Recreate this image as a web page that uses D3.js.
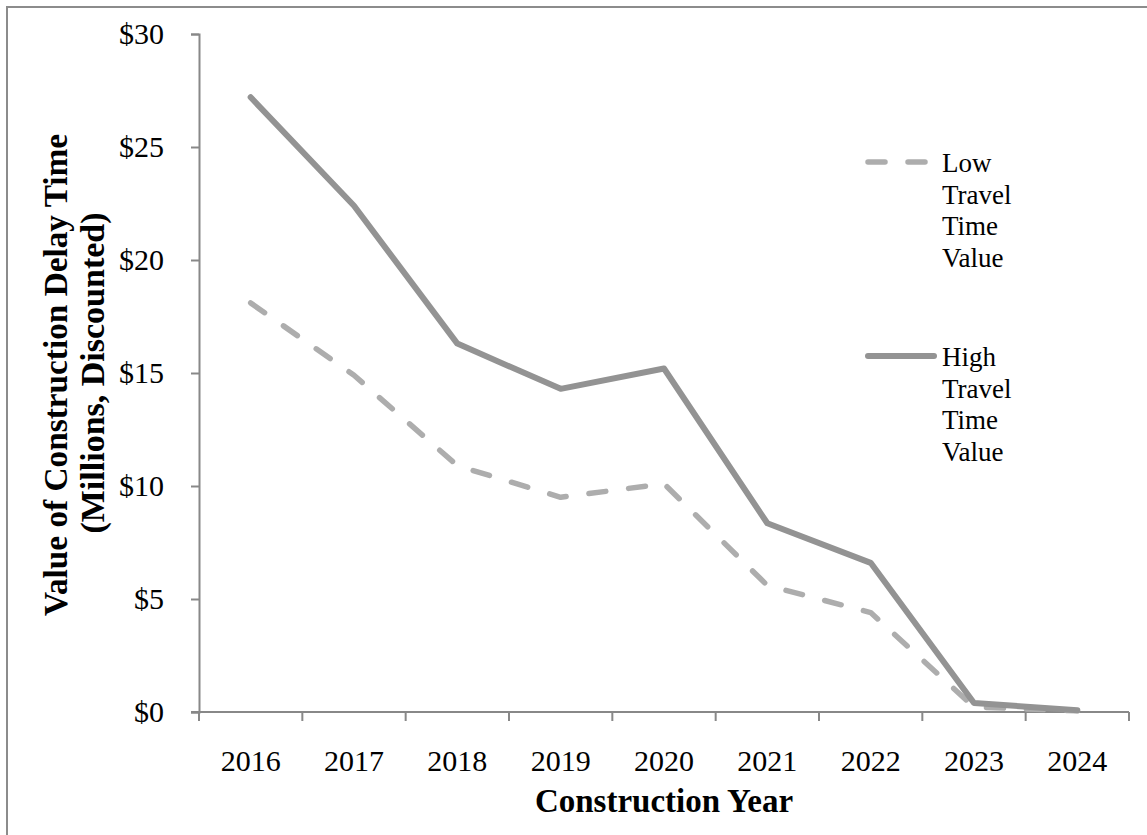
<!DOCTYPE html>
<html><head><meta charset="utf-8">
<script src="https://cdn.jsdelivr.net/npm/d3@7"></script>
<style>body{margin:0;background:#fff}svg{display:block}</style>
</head><body>
<svg id="c" width="1147" height="835"></svg>
<script>
const years = ["2016","2017","2018","2019","2020","2021","2022","2023","2024"];
const highValues = [27.2, 22.4, 16.3, 14.3, 15.2, 8.35, 6.6, 0.4, 0.08];
const lowValues  = [18.1, 14.9, 10.9, 9.5, 10.1, 5.6, 4.4, 0.22, 0.05];
const yTicks = [0, 5, 10, 15, 20, 25, 30];
const seriesNames = [["Low","Travel","Time","Value"],["High","Travel","Time","Value"]];

const svg = d3.select("#c");
const font = "'Liberation Serif', serif";
const axisColor = "#888";
const m = {left:199, right:1129, top:34, bottom:712};

svg.append("rect").attr("x",7).attr("y",7).attr("width",1200).attr("height",900)
  .attr("fill","none").attr("stroke","#8c8c8c").attr("stroke-width",2);

const x = d3.scaleBand().domain(years).range([m.left, m.right]).padding(0);
const y = d3.scaleLinear().domain([0,30]).range([m.bottom, m.top]);

// y axis
const ya = svg.append("g").attr("transform",`translate(${m.left},0)`)
  .call(d3.axisLeft(y).tickValues(yTicks).tickSize(8).tickPadding(27).tickFormat(d=>"$"+d));
ya.select(".domain").attr("stroke",axisColor).attr("stroke-width",2);
ya.selectAll(".tick line").attr("stroke",axisColor).attr("stroke-width",2);
ya.selectAll(".tick text").attr("font-family",font).attr("font-size",30).attr("fill","#000");

// x axis
const xa = svg.append("g").attr("transform",`translate(0,${m.bottom})`)
  .call(d3.axisBottom(x).tickSize(0).tickPadding(38));
xa.select(".domain").remove();
xa.selectAll(".tick text").attr("font-family",font).attr("font-size",30).attr("fill","#000");
svg.append("line").attr("x1",m.left-8).attr("x2",m.right).attr("y1",m.bottom).attr("y2",m.bottom)
  .attr("stroke",axisColor).attr("stroke-width",2);
const bounds = years.map(d=>x(d)).concat([x(years[years.length-1])+x.bandwidth()]);
svg.selectAll(".xt").data(bounds).join("line").attr("class","xt")
  .attr("x1",d=>d).attr("x2",d=>d).attr("y1",m.bottom).attr("y2",m.bottom+9)
  .attr("stroke",axisColor).attr("stroke-width",2);

// lines
const line = d3.line().x((d,i)=>x(years[i])+x.bandwidth()/2).y(d=>y(d));
svg.append("path").datum(lowValues).attr("d",line).attr("fill","none")
  .attr("stroke","#adadad").attr("stroke-width",5.5).attr("stroke-linecap","round")
  .attr("stroke-linejoin","round").attr("stroke-dasharray","17,23");
svg.append("path").datum(highValues).attr("d",line).attr("fill","none")
  .attr("stroke","#939393").attr("stroke-width",6).attr("stroke-linecap","round")
  .attr("stroke-linejoin","round");

// legend
const legY = [162, 356];
svg.append("line").attr("x1",868).attr("x2",926).attr("y1",legY[0]).attr("y2",legY[0])
  .attr("stroke","#adadad").attr("stroke-width",5.5).attr("stroke-linecap","round").attr("stroke-dasharray","17,23");
svg.append("line").attr("x1",868).attr("x2",934).attr("y1",legY[1]).attr("y2",legY[1])
  .attr("stroke","#939393").attr("stroke-width",6).attr("stroke-linecap","round");
seriesNames.forEach((lines,k)=>{
  const t = svg.append("text").attr("font-family",font).attr("font-size",27).attr("fill","#000");
  lines.forEach((s,i)=>t.append("tspan").attr("x",942).attr("y",legY[k]+10+i*31.5).text(s));
});

// axis titles
svg.append("text").attr("x",(m.left+m.right)/2).attr("y",812).attr("text-anchor","middle")
  .attr("font-family",font).attr("font-weight","bold").attr("font-size",33).text("Construction Year");
const yc = 375;
svg.append("text").attr("transform",`translate(67,${yc}) rotate(-90)`).attr("text-anchor","middle")
  .attr("font-family",font).attr("font-weight","bold").attr("font-size",33.3).text("Value of Construction Delay Time");
svg.append("text").attr("transform",`translate(104,${yc-2}) rotate(-90)`).attr("text-anchor","middle")
  .attr("font-family",font).attr("font-weight","bold").attr("font-size",34).text("(Millions, Discounted)");
</script>
</body></html>
